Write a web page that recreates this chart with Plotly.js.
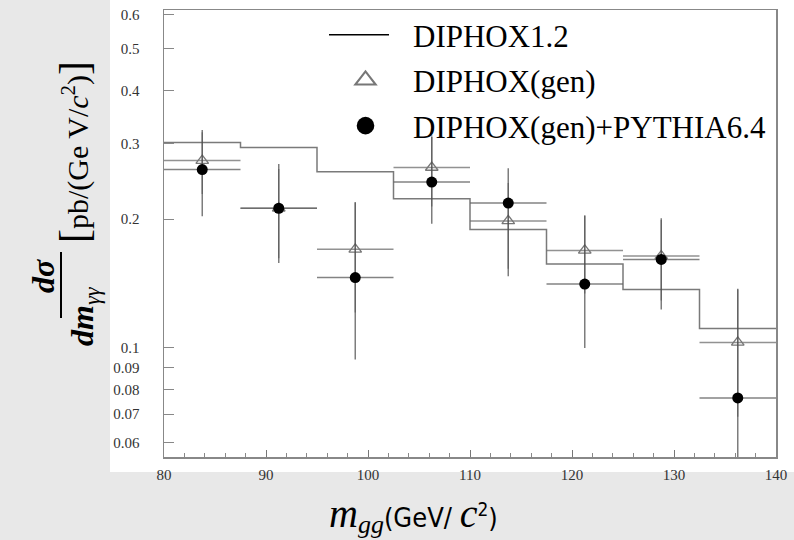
<!DOCTYPE html>
<html>
<head>
<meta charset="utf-8">
<script src="https://cdn.plot.ly/plotly-3.0.1.min.js"></script>
<style>
html,body{margin:0;padding:0;background:#e8e8e8;}
#chart{width:794px;height:540px;}
</style>
</head>
<body>
<div id="chart"></div>
<script>
// ---- data ----
const binEdges = [80, 87.5, 95, 102.5, 110, 117.5, 125, 132.5, 140];
const binCenters = [83.75, 91.25, 98.75, 106.25, 113.75, 121.25, 128.75, 136.25];
const binHalfWidth = 3.75;

const diphox12 = [0.302, 0.294, 0.258, 0.223, 0.189, 0.157, 0.137, 0.111];

const diphoxGen = [0.274, 0.212, 0.170, 0.264, 0.198, 0.169, 0.164, 0.103];
const diphoxGenErr = [0.045, 0.050, 0.049, 0.050, 0.045, 0.035, 0.035, 0.034];

const diphoxPythia = [0.261, 0.212, 0.146, 0.244, 0.218, 0.141, 0.161, 0.0764];
const diphoxPythiaErrPlus = [0.062, 0.057, 0.073, 0.067, 0.045, 0.063, 0.040, 0.061];
const diphoxPythiaErrMinus = [0.058, 0.054, 0.052, 0.049, 0.071, 0.041, 0.038, 0.030];

const seriesNames = ['DIPHOX1.2', 'DIPHOX(gen)', 'DIPHOX(gen)+PYTHIA6.4'];
const yTickVals = [0.06, 0.07, 0.08, 0.09, 0.1, 0.2, 0.3, 0.4, 0.5, 0.6];
const yTickText = ['0.06', '0.07', '0.08', '0.09', '0.1', '0.2', '0.3', '0.4', '0.5', '0.6'];
const xTickVals = [80, 90, 100, 110, 120, 130, 140];

// ---- geometry helpers (pixel -> paper) ----
const W = 794, H = 540;
const mL = 164, mR = 18, mT = 10, mB = 83;
const pw = W - mL - mR, ph = H - mT - mB;
const px = v => (v - mL) / pw;
const py = v => (H - mB - v) / ph;

const histY = diphox12.concat([diphox12[diphox12.length - 1]]);

const traces = [
  {
    type: 'scatter', mode: 'lines', name: seriesNames[0],
    x: binEdges, y: histY,
    line: {shape: 'hv', color: '#7a7a7a', width: 1.5}
  },
  {
    type: 'scatter', mode: 'markers', name: seriesNames[1],
    x: binCenters, y: diphoxGen,
    marker: {symbol: 'triangle-up-open', size: 11, color: '#777', line: {width: 1.3, color: '#777'}},
    error_x: {type: 'constant', value: binHalfWidth, width: 0, thickness: 1.5, color: 'rgba(110,110,110,0.75)'},
    error_y: {type: 'data', array: diphoxGenErr, width: 0, thickness: 1.5, color: 'rgba(110,110,110,0.6)'}
  },
  {
    type: 'scatter', mode: 'markers', name: seriesNames[2],
    x: binCenters, y: diphoxPythia,
    marker: {symbol: 'circle', size: 11, color: '#000'},
    error_x: {type: 'constant', value: binHalfWidth, width: 0, thickness: 1.5, color: 'rgba(100,100,100,0.8)'},
    error_y: {type: 'data', symmetric: false, array: diphoxPythiaErrPlus, arrayminus: diphoxPythiaErrMinus,
              width: 0, thickness: 1.5, color: 'rgba(70,70,70,0.7)'}
  }
];

const serif = 'Liberation Serif';

const layout = {
  width: W, height: H,
  margin: {l: mL, r: mR, t: mT, b: mB, pad: 0, autoexpand: false},
  paper_bgcolor: '#e8e8e8',
  plot_bgcolor: '#ffffff',
  showlegend: true,
  legend: {
    x: px(328), xanchor: 'left', y: py(8), yanchor: 'top',
    bgcolor: 'rgba(0,0,0,0)', borderwidth: 0,
    font: {family: serif, size: 31, color: '#000'},
    itemwidth: 75, traceorder: 'normal', itemclick: false
  },
  xaxis: {
    range: [80, 140], type: 'linear',
    tickvals: xTickVals, ticks: 'inside', ticklen: 7, tickwidth: 1, tickcolor: '#777',
    minor: {dtick: 2, tick0: 80, ticks: 'inside', ticklen: 4, tickcolor: '#888', showgrid: false},
    showline: true, linecolor: '#888', linewidth: 1.5, mirror: true,
    showgrid: false, zeroline: false,
    tickfont: {family: serif, size: 15, color: '#333'},
    ticklabelstandoff: 3
  },
  yaxis: {
    type: 'log', range: [Math.log10(0.0556), Math.log10(0.616)],
    tickvals: yTickVals, ticktext: yTickText,
    ticks: 'inside', ticklen: 10, tickwidth: 1, tickcolor: '#888',
    showline: true, linecolor: '#888', linewidth: 1.5, mirror: true,
    showgrid: false, zeroline: false,
    tickfont: {family: serif, size: 15, color: '#333'},
    ticklabelstandoff: 20
  },
  shapes: [
    {type: 'rect', xref: 'paper', yref: 'paper', layer: 'below',
     x0: px(110), x1: px(794), y0: py(472), y1: py(0),
     fillcolor: '#ffffff', line: {width: 0}},
    {type: 'line', xref: 'paper', yref: 'paper',
     x0: px(61), x1: px(61), y0: py(252), y1: py(318),
     line: {color: '#000', width: 2}}
  ],
  annotations: [
    {xref: 'paper', yref: 'paper', x: px(43), y: py(276), xanchor: 'center', yanchor: 'middle',
     textangle: -90, showarrow: false,
     text: '<b><i>dσ</i></b>', font: {family: serif, size: 32, color: '#000'}},
    {xref: 'paper', yref: 'paper', x: px(84), y: py(316), xanchor: 'center', yanchor: 'middle',
     textangle: -90, showarrow: false,
     text: '<b><i>dm</i></b><sub><i>γγ</i></sub>', font: {family: serif, size: 32, color: '#000'}},
    {xref: 'paper', yref: 'paper', x: px(74), y: py(152), xanchor: 'center', yanchor: 'middle',
     textangle: -90, showarrow: false,
     text: '<span style="font-size:42px">[</span>pb/(Ge V/<i>c</i><sup>2</sup>)<span style="font-size:42px">]</span>',
     font: {family: serif, size: 30, color: '#000'}},
    {xref: 'paper', yref: 'paper', x: px(413), y: py(515), xanchor: 'center', yanchor: 'middle',
     showarrow: false,
     text: '<span style="font-family:Liberation Serif;font-size:40px"><i>m</i></span><sub><span style="font-family:Liberation Serif;font-size:26px"><i>gg</i></span></sub>(GeV/ <span style="font-family:Liberation Serif;font-size:40px"><i>c</i></span><sup>2</sup>)',
     font: {family: 'DejaVu Sans Condensed', size: 27, color: '#000'}}
  ]
};

Plotly.newPlot('chart', traces, layout, {displayModeBar: false, staticPlot: true}).then(gd => {
  // enlarge legend keys to match the reference's large symbols
  gd.querySelectorAll('.legend .legendpoints path.scatterpts').forEach(p => {
    const t = p.getAttribute('transform') || '';
    p.setAttribute('transform', 'translate(-5,0) ' + t + ' scale(1.6)');
  });
  gd.querySelectorAll('.legend .legendlines path').forEach(p => {
    p.style.stroke = '#000';
    p.setAttribute('d', 'M1,0h60');
  });
  // reference legend rows are spaced a little wider
  const items = gd.querySelectorAll('.legend .traces');
  const first = items.length ? /translate\(([-\d.]+),\s*([-\d.]+)\)/.exec(items[0].getAttribute('transform') || '') : null;
  if (first) {
    const y0 = parseFloat(first[2]);
    items.forEach((g, i) => {
      const m = /translate\(([-\d.]+),\s*([-\d.]+)\)/.exec(g.getAttribute('transform') || '');
      if (m) g.setAttribute('transform', 'translate(' + parseFloat(m[1]) + ',' + (y0 + i * 45.5) + ')');
    });
  }
});
</script>
</body>
</html>
